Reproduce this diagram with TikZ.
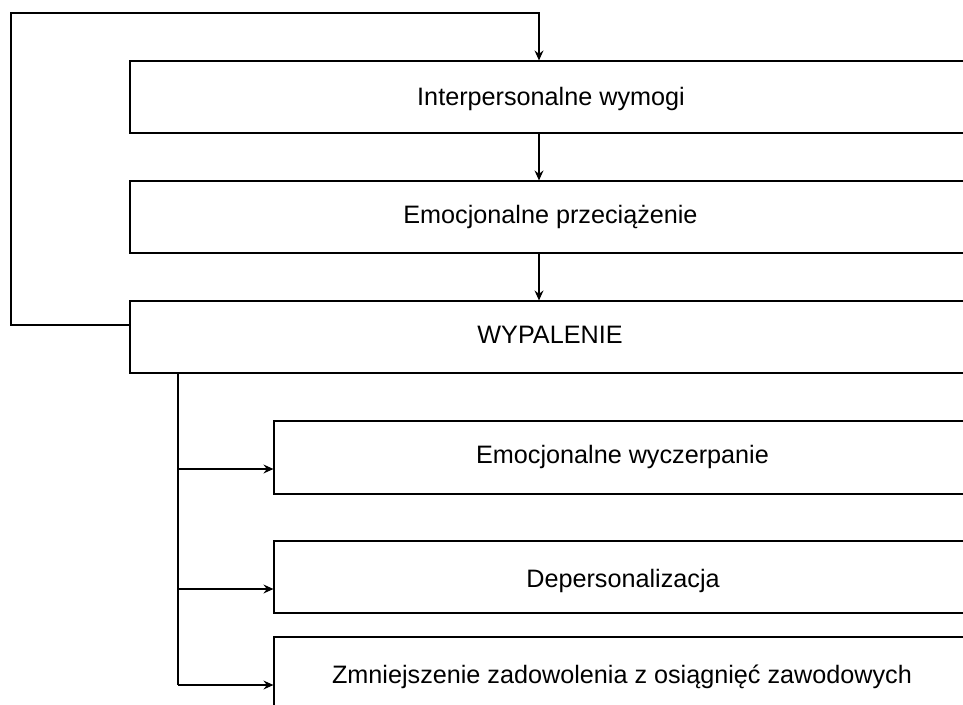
\documentclass[tikz,border=0pt]{standalone}
\usepackage{fontspec}
\setmainfont{Liberation Sans}
\usetikzlibrary{arrows.meta}
\begin{document}
\begin{tikzpicture}[x=1pt,y=-1pt,
  boxst/.style={draw, line width=1.2pt, rectangle, inner sep=0pt},
  lbl/.style={anchor=base, inner sep=0pt, font=\fontsize{25.2}{30}\selectfont},
  conn/.style={line width=1.2pt},
  arr/.style={conn, -{Stealth[length=10pt,width=9pt,inset=3.5pt]}}]
\useasboundingbox (0,0) rectangle (963,704);
% boxes
\node[boxst, minimum width=842pt, minimum height=72pt] (b1) at (551,97) {};
\node[boxst, minimum width=842pt, minimum height=72pt] (b2) at (551,217) {};
\node[boxst, minimum width=842pt, minimum height=72pt] (b3) at (551,337) {};
\node[boxst, minimum width=698pt, minimum height=73pt] (b4) at (623,457.5) {};
\node[boxst, minimum width=698pt, minimum height=72pt] (b5) at (623,577) {};
\node[boxst, minimum width=698pt, minimum height=72pt] (b6) at (623,673) {};
% labels
\node[lbl] (t1) at (551,105) {Interpersonalne wymogi};
\node[lbl] (t2) at (550.5,223) {Emocjonalne przeciążenie};
\node[lbl] (t3) at (550,343) {WYPALENIE};
\node[lbl] (t4) at (622.5,463) {Emocjonalne wyczerpanie};
\node[lbl] (t5) at (623,587) {Depersonalizacja};
\node[lbl] (t6) at (622,683) {Zmniejszenie zadowolenia z osiągnięć zawodowych};
% helper coordinates
\coordinate (ax) at (539,0);
\coordinate (bx) at (178,0);
\coordinate (lp) at (130,325);
\coordinate (lc1) at (11,325);
\coordinate (lc2) at (11,13);
\coordinate (lc3) at (539,13);
\coordinate (r4) at (178,469);
\coordinate (r5) at (178,589);
\coordinate (r6) at (178,685);
% feedback loop
\draw[arr] (lp) -- (lc1) -- (lc2) -- (lc3) -- (b1.north -| ax);
% vertical chain
\draw[arr] (b1.south -| ax) -- (b2.north -| ax);
\draw[arr] (b2.south -| ax) -- (b3.north -| ax);
% branches
\draw[conn] (b3.south -| bx) -- (r6);
\draw[arr] (r4) -- (r4 -| b4.west);
\draw[arr] (r5) -- (r5 -| b5.west);
\draw[arr] (r6) -- (r6 -| b6.west);
\end{tikzpicture}
\end{document}
